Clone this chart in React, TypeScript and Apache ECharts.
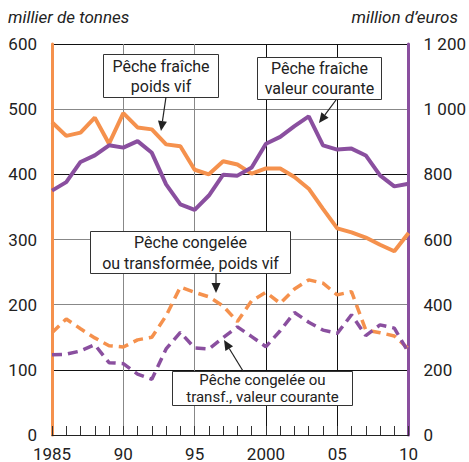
import React, { useEffect, useRef } from "react";
import * as echarts from "echarts";

const years = [1985, 1986, 1987, 1988, 1989, 1990, 1991, 1992, 1993, 1994, 1995, 1996, 1997, 1998, 1999, 2000, 2001, 2002, 2003, 2004, 2005, 2006, 2007, 2008, 2009, 2010];
const freshWeight = [480, 459, 464, 487, 447, 494, 472, 469, 446, 443, 407, 400, 420, 415, 401, 409, 409, 396, 378, 347, 317, 311, 303, 292, 282, 310];
const freshValue = [750, 776, 838, 858, 889, 882, 902, 866, 769, 708, 691, 735, 799, 796, 821, 894, 915, 948, 978, 889, 876, 879, 858, 797, 763, 771];
const frozenWeight = [157, 178, 163, 149, 137, 135, 146, 150, 183, 227, 219, 212, 198, 174, 206, 219, 202, 224, 238, 233, 215, 220, 161, 157, 152, 132];
const frozenValue = [246, 248, 258, 277, 222, 219, 187, 171, 264, 315, 267, 264, 299, 332, 302, 271, 320, 376, 346, 322, 312, 369, 305, 338, 328, 253];

const xTickLabels: Record<number, string> = { 1985: "1985", 1990: "90", 1995: "95", 2000: "2000", 2005: "05", 2010: "10" };
const rightTickLabels: Record<number, string> = { 0: "0", 200: "200", 400: "400", 600: "600", 800: "800", 1000: "1 000", 1200: "1 200" };

const ORANGE = "#F5914D";
const PURPLE = "#8A4F9F";
const FONT = "Roboto";

function box(x: number, y: number, w: number, h: number, lines: string[], lh: number, fs: number) {
  const out: any[] = [
    { type: "rect", z: 100, shape: { x: x + 0.5, y: y + 0.5, width: w, height: h }, style: { fill: "#fff", stroke: "#333", lineWidth: 1 } },
  ];
  const cy = y + h / 2 + 0.5;
  lines.forEach((t, i) => {
    out.push({
      type: "text", z: 101, x: x + w / 2 + 0.5, y: cy + (i - (lines.length - 1) / 2) * lh,
      style: { text: t, fill: "#222", font: `${fs}px ${FONT}`, textAlign: "center", textVerticalAlign: "middle" },
    });
  });
  return out;
}

function arrow(x1: number, y1: number, x2: number, y2: number) {
  const dx = x2 - x1, dy = y2 - y1;
  const len = Math.sqrt(dx * dx + dy * dy);
  const ux = dx / len, uy = dy / len;
  const hl = 10, hw = 4.5;
  const bx = x2 - ux * hl, by = y2 - uy * hl;
  return [
    { type: "line", z: 100, shape: { x1, y1, x2: bx, y2: by }, style: { stroke: "#222", lineWidth: 1.2 } },
    {
      type: "polygon", z: 100,
      shape: { points: [[x2, y2], [bx - uy * hw, by + ux * hw], [bx + uy * hw, by - ux * hw]] },
      style: { fill: "#222" },
    },
  ];
}

export default function App() {
  const ref = useRef<HTMLDivElement>(null);
  useEffect(() => {
    document.body.style.margin = "0";
    const chart = echarts.init(ref.current!, null, { renderer: "svg" });
    const pairs = (vals: number[]) => years.map((y, i) => [y, vals[i]]);
    chart.setOption({
      animation: false,
      grid: { left: 52, right: 57, top: 44, bottom: 27 },
      xAxis: [
        {
          type: "value", min: 1985, max: 2010, interval: 1,
          axisLine: { show: true, lineStyle: { color: "#222", width: 1 } },
          axisTick: { show: true, inside: true, length: 9, lineStyle: { color: "#333" } },
          axisLabel: {
            formatter: (v: number) => xTickLabels[v] ?? "", color: "#222", fontSize: 17, fontFamily: FONT, margin: 10,
            showMinLabel: true, showMaxLabel: true,
          },
          splitLine: { show: false },
        },
        {
          type: "value", min: 1985, max: 2010, interval: 5, position: "top",
          axisLine: { show: false }, axisTick: { show: false }, axisLabel: { show: false },
          splitLine: { show: true, lineStyle: { color: ["#222", "#888", "#888", "#111", "#111", "#222"], width: 1 } },
        },
      ],
      yAxis: [
        {
          type: "value", min: 0, max: 600, interval: 100, position: "left",
          axisLine: { show: true, lineStyle: { color: ORANGE, width: 3 } },
          axisTick: { show: false },
          axisLabel: { color: "#222", fontSize: 17, fontFamily: FONT, margin: 15 },
          splitLine: { show: true, lineStyle: { color: ["#111", "#111", "#888", "#888", "#111", "#888", "#111"], width: 1 } },
        },
        {
          type: "value", min: 0, max: 1200, interval: 200, position: "right",
          axisLine: { show: true, lineStyle: { color: PURPLE, width: 3 } },
          axisTick: { show: false },
          axisLabel: { color: "#222", fontSize: 17, fontFamily: FONT, margin: 15, formatter: (v: number) => rightTickLabels[v] ?? String(v) },
          splitLine: { show: false },
        },
      ],
      series: [
        { type: "line", name: "Pêche fraîche poids vif", xAxisIndex: 0, yAxisIndex: 0, data: pairs(freshWeight), showSymbol: false, lineStyle: { color: ORANGE, width: 4 }, z: 3 },
        { type: "line", name: "Pêche fraîche valeur courante", xAxisIndex: 0, yAxisIndex: 1, data: pairs(freshValue), showSymbol: false, lineStyle: { color: PURPLE, width: 4 }, z: 4 },
        { type: "line", name: "Pêche congelée ou transformée, poids vif", xAxisIndex: 0, yAxisIndex: 0, data: pairs(frozenWeight), showSymbol: false, lineStyle: { color: ORANGE, width: 3.5, type: [10, 6] }, z: 5 },
        { type: "line", name: "Pêche congelée ou transf., valeur courante", xAxisIndex: 0, yAxisIndex: 1, data: pairs(frozenValue), showSymbol: false, lineStyle: { color: PURPLE, width: 3.5, type: [10, 6] }, z: 6 },
      ],
      graphic: [
        { type: "text", x: 8, y: 17, style: { text: "millier de tonnes", font: `italic 17px ${FONT}`, fill: "#222", textVerticalAlign: "middle" } },
        { type: "text", x: 458, y: 17, style: { text: "million d\u2019euros", font: `italic 17px ${FONT}`, fill: "#222", textAlign: "right", textVerticalAlign: "middle" } },
        ...box(103, 54, 115, 43, ["Pêche fraîche", "poids vif"], 20, 16),
        ...arrow(166, 97, 161, 131),
        ...box(257, 57, 124, 42, ["Pêche fraîche", "valeur courante"], 20, 16),
        ...arrow(336, 100, 319, 123),
        ...box(90, 231, 200, 42, ["Pêche congelée", "ou transformée, poids vif"], 21, 16),
        ...arrow(216, 273, 216, 293),
        ...box(172, 371, 180, 34, ["Pêche congelée ou", "transf., valeur courante"], 17, 15),
        ...arrow(243, 371, 224, 340),
      ],
    });
    return () => chart.dispose();
  }, []);
  return <div ref={ref} style={{ width: 469, height: 462 }} />;
}
